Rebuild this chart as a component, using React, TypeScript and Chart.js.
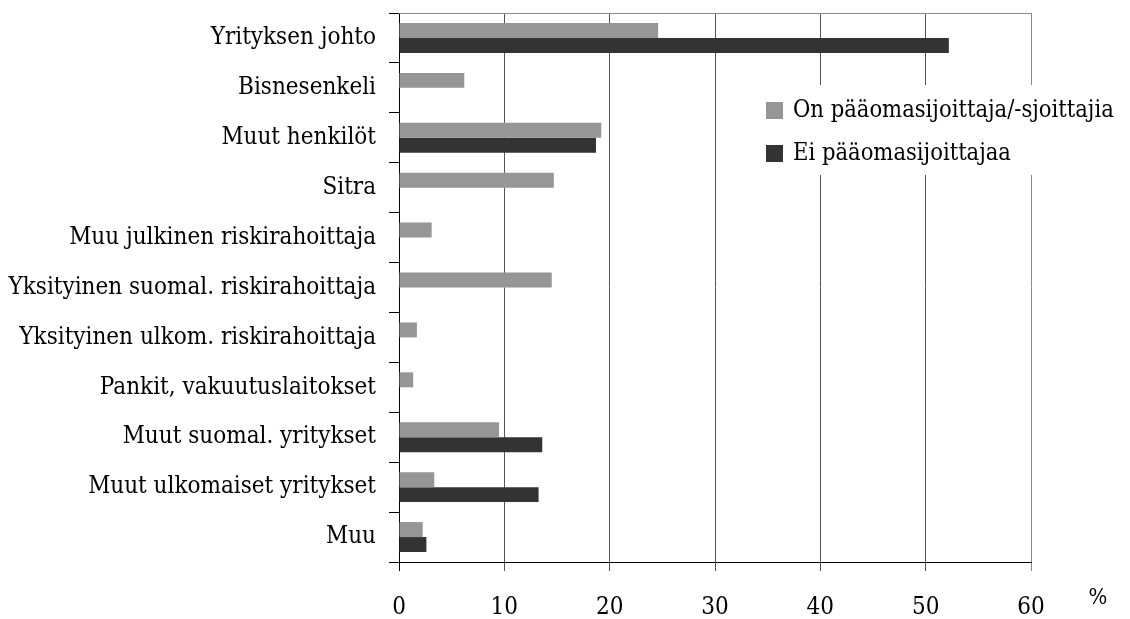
import React, { useEffect, useRef } from "react";
import { Chart, registerables } from "chart.js";

Chart.register(...registerables);

const categories = [
  "Yrityksen johto",
  "Bisnesenkeli",
  "Muut henkilöt",
  "Sitra",
  "Muu julkinen riskirahoittaja",
  "Yksityinen suomal. riskirahoittaja",
  "Yksityinen ulkom. riskirahoittaja",
  "Pankit, vakuutuslaitokset",
  "Muut suomal. yritykset",
  "Muut ulkomaiset yritykset",
  "Muu",
];

const seriesNames = ["On pääomasijoittaja/-sjoittajia", "Ei pääomasijoittajaa"];

const withInvestor = [24.6, 6.2, 19.2, 14.7, 3.1, 14.5, 1.7, 1.35, 9.5, 3.35, 2.25];
const withoutInvestor = [52.2, null, 18.7, null, null, null, null, null, 13.6, 13.25, 2.6];

const xTicks = [0, 10, 20, 30, 40, 50, 60];
const unitLabel = "%";

const FONT = '"DejaVu Serif Condensed", "DejaVu Serif", serif';
const GRAY = "#969696";
const DARK = "#333333";

const extrasPlugin = {
  id: "extras",
  afterDraw(chart: any) {
    const { ctx, chartArea } = chart;
    const { left, right, top } = chartArea;
    ctx.save();
    ctx.strokeStyle = "#888888";
    ctx.lineWidth = 1;
    ctx.beginPath();
    ctx.moveTo(left, Math.round(top) + 0.5);
    ctx.lineTo(right + 0.5, Math.round(top) + 0.5);
    ctx.stroke();

    const lx = right - 276;
    const ly = top + 72;
    ctx.fillStyle = "#ffffff";
    ctx.fillRect(lx, ly, 1126 - lx, 90);
    const ds = chart.data.datasets;
    ctx.font = `23.5px ${FONT}`;
    ctx.textBaseline = "middle";
    ctx.textAlign = "left";
    ds.forEach((d: any, i: number) => {
      const cy = ly + 25 + i * 43;
      ctx.fillStyle = d.backgroundColor;
      ctx.fillRect(lx + 11, cy - 8, 17, 17);
      ctx.fillStyle = "#000";
      ctx.fillText(d.label, lx + 38, cy + 1);
    });

    ctx.font = `22px ${FONT}`;
    ctx.textAlign = "center";
    ctx.fillText(unitLabel, right + 67, chart.chartArea.bottom + 36);
    ctx.restore();
  },
};

export default function App() {
  const ref = useRef<HTMLCanvasElement>(null);
  useEffect(() => {
    if (!ref.current) return;
    const chart = new Chart(ref.current, {
      type: "bar",
      data: {
        labels: categories,
        datasets: [
          { label: seriesNames[0], data: withInvestor, backgroundColor: GRAY, borderWidth: 0 },
          { label: seriesNames[1], data: withoutInvestor as any, backgroundColor: DARK, borderWidth: 0 },
        ],
      },
      options: {
        indexAxis: "y",
        responsive: false,
        animation: false,
        devicePixelRatio: 1,
        layout: { padding: { top: 13, right: 99, bottom: 0, left: 0 } },
        datasets: { bar: { categoryPercentage: 0.6, barPercentage: 1.0 } },
        plugins: { legend: { display: false }, tooltip: { enabled: false } },
        scales: {
          y: {
            type: "category",
            offset: true,
            afterFit: (s: any) => {
              s.width = 399;
              s.paddingTop = 0;
              s.paddingBottom = 0;
            },
            grid: { offset: true, drawOnChartArea: false, drawTicks: true, tickLength: 10, color: "#000" },
            border: { color: "#000", width: 1 },
            ticks: { color: "#000", font: { family: FONT, size: 24 }, padding: 13, autoSkip: false },
          },
          x: {
            type: "linear",
            min: 0,
            max: 60,
            afterBuildTicks: (s: any) => {
              s.ticks = xTicks.map((v) => ({ value: v }));
            },
            afterFit: (s: any) => {
              s.height = 57;
            },
            grid: {
              drawTicks: true,
              tickLength: 9,
              color: (c: any) =>
                c.tick && c.tick.value === 60 ? "#888888" : c.tick && c.tick.value === 0 ? "#000" : "#555555",
            },
            border: { color: "#000", width: 1 },
            ticks: { color: "#000", font: { family: FONT, size: 24 }, padding: 22, maxRotation: 0 },
          },
        },
      },
      plugins: [extrasPlugin],
    });
    return () => chart.destroy();
  }, []);
  return (
    <div style={{ position: "absolute", left: 0, top: 0, width: 1130, height: 619, background: "#fff" }}>
      <canvas ref={ref} width={1130} height={619} style={{ width: 1130, height: 619 }} />
    </div>
  );
}
